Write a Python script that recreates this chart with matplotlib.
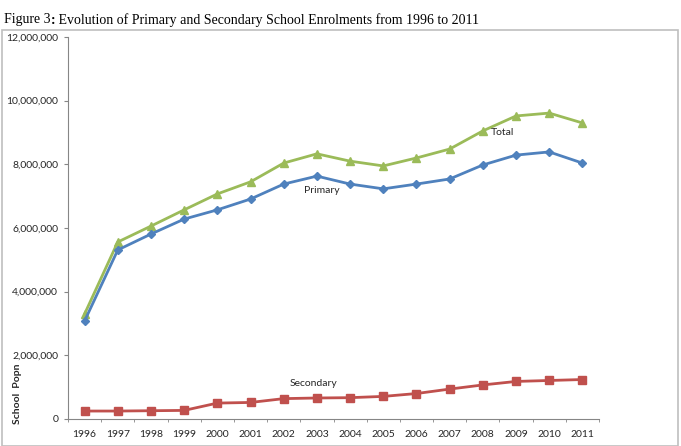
import matplotlib.pyplot as plt
from matplotlib.patches import Rectangle
from matplotlib.ticker import FuncFormatter, FixedLocator

years = list(range(1996, 2012))
primary = [3.08, 5.31, 5.81, 6.28, 6.57, 6.91, 7.38, 7.63, 7.38, 7.23, 7.38, 7.54, 7.98, 8.29, 8.39, 8.04]
secondary = [0.25, 0.25, 0.26, 0.27, 0.50, 0.52, 0.64, 0.66, 0.67, 0.71, 0.80, 0.94, 1.07, 1.18, 1.21, 1.24]
total = [3.30, 5.56, 6.06, 6.57, 7.07, 7.45, 8.04, 8.33, 8.10, 7.95, 8.20, 8.48, 9.05, 9.52, 9.61, 9.30]

primary = [v * 1e6 for v in primary]
secondary = [v * 1e6 for v in secondary]
total = [v * 1e6 for v in total]

font = 'Lato'
fig = plt.figure(figsize=(6.81, 4.46), dpi=100)
ax = fig.add_axes([68 / 681, 1 - 419 / 446, (599 - 68) / 681, (419 - 37) / 446])

# outer chart frame
fig.patches.append(Rectangle((2 / 681, 0.0), 676 / 681, 1 - 30 / 446, transform=fig.transFigure,
                             fill=False, edgecolor='#bfbfbf', linewidth=1.2))

x = list(range(len(years)))
ax.plot(x, total, color='#9BBB59', marker='^', markersize=6, linewidth=2)
ax.plot(x, primary, color='#4F81BD', marker='D', markersize=4.5, linewidth=2)
ax.plot(x, secondary, color='#C0504D', marker='s', markersize=5.5, linewidth=2)

ax.text(7.15, 7.19e6, 'Primary', fontsize=7.5, family=font, color='#262626', ha='center', va='center')
ax.text(12.6, 9.0e6, 'Total', fontsize=7.5, family=font, color='#262626', ha='center', va='center')
ax.text(6.9, 1.13e6, 'Secondary', fontsize=7.5, family=font, color='#262626', ha='center', va='center')

ax.set_xlim(-0.5, len(years) - 0.5)
ax.set_ylim(0, 12e6)
ax.set_yticks(range(0, 12000001, 2000000))
ax.yaxis.set_major_formatter(FuncFormatter(lambda v, p: f'{int(v):,}'))
ax.set_xticks(x)
ax.set_xticklabels([str(y) for y in years])
ax.xaxis.set_minor_locator(FixedLocator([i + 0.5 for i in range(-1, len(years))]))
ax.tick_params(axis='x', which='major', length=0, pad=8)
ax.tick_params(axis='x', which='minor', length=2.5, color='#868686')
ax.tick_params(axis='y', length=3, color='#868686', pad=4)
for lab in ax.get_xticklabels() + ax.get_yticklabels():
    lab.set_family(font)
    lab.set_fontsize(7.5)
    lab.set_color('#262626')

for s in ['top', 'right']:
    ax.spines[s].set_visible(False)
for s in ['left', 'bottom']:
    ax.spines[s].set_color('#868686')
    ax.spines[s].set_linewidth(0.8)

fig.text(17 / 681, 1 - 394 / 446, 'School  Popn', rotation=90, fontsize=7.5, fontweight='bold',
         family=font, ha='center', va='center', color='#262626')

# title, with the bold colon after "Figure 3"
ty = 1 - 20 / 446
t1 = fig.text(4 / 681, ty, 'Figure 3', fontsize=10, family='Liberation Serif', va='center', ha='left')
fig.canvas.draw()
bb = t1.get_window_extent()
t2 = fig.text(bb.x1 / 681, ty, ':', fontsize=10, family='Liberation Serif', fontweight='bold',
              va='center', ha='left')
bb2 = t2.get_window_extent()
fig.text(bb2.x1 / 681, ty, ' Evolution of Primary and Secondary School Enrolments from 1996 to 2011',
         fontsize=10, family='Liberation Serif', va='center', ha='left')

fig.savefig('out.png', dpi=100)
